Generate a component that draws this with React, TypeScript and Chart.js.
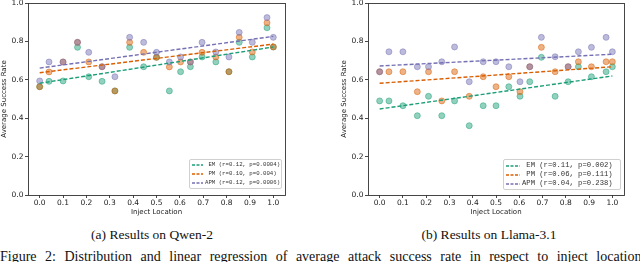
import React, { useEffect, useRef } from "react";
import { Chart, registerables } from "chart.js";

Chart.register(...registerables);

// ---------- data ----------
const LOCATIONS = [0, 0.04, 0.1, 0.162, 0.21, 0.267, 0.322, 0.385, 0.445, 0.5, 0.555, 0.603, 0.645, 0.695, 0.754, 0.81, 0.854, 0.91, 0.973, 1.0];

const QWEN_EM = [0.564, 0.592, 0.594, 0.769, 0.616, 0.592, 0.542, 0.769, 0.668, 0.717, 0.542, 0.642, 0.668, 0.719, 0.693, 0.642, 0.795, 0.719, 0.871, 0.771];
const QWEN_PM = [0.564, 0.641, 0.693, 0.795, 0.693, 0.668, 0.542, 0.795, 0.743, 0.717, 0.667, 0.693, 0.693, 0.743, 0.719, 0.642, 0.821, 0.745, 0.897, 0.771];
const QWEN_APM = [0.594, 0.693, 0.693, 0.795, 0.743, 0.668, 0.616, 0.821, 0.795, 0.743, 0.693, 0.719, 0.693, 0.795, 0.745, 0.719, 0.847, 0.795, 0.924, 0.821];
const QWEN_EM_FIT = [0.582, 0.771];
const QWEN_PM_FIT = [0.637, 0.786];
const QWEN_APM_FIT = [0.661, 0.826];
const QWEN_LEGEND = [" EM (r=0.12, p=0.0004)", " PM (r=0.10, p=0.004)", "APM (r=0.12, p=0.0006)"];

const LLAMA_EM = [0.49, 0.49, 0.465, 0.413, 0.514, 0.413, 0.49, 0.361, 0.465, 0.465, 0.564, 0.514, 0.59, 0.717, 0.514, 0.59, 0.668, 0.616, 0.642, 0.668];
const LLAMA_PM = [0.642, 0.642, 0.642, 0.538, 0.642, 0.49, 0.642, 0.514, 0.616, 0.564, 0.616, 0.538, 0.668, 0.769, 0.642, 0.668, 0.694, 0.668, 0.694, 0.694];
const LLAMA_APM = [0.642, 0.746, 0.746, 0.668, 0.668, 0.694, 0.771, 0.59, 0.694, 0.694, 0.668, 0.59, 0.668, 0.821, 0.72, 0.668, 0.746, 0.769, 0.821, 0.746];
const LLAMA_EM_FIT = [0.448, 0.62];
const LLAMA_PM_FIT = [0.582, 0.668];
const LLAMA_APM_FIT = [0.672, 0.733];
const LLAMA_LEGEND = [" EM (r=0.11, p=0.002)", " PM (r=0.06, p=0.111)", "APM (r=0.04, p=0.238)"];

const FIT_X = [0, 1];
const X_TICKS = [0, 0.1, 0.2, 0.3, 0.4, 0.5, 0.6, 0.7, 0.8, 0.9, 1.0];
const Y_TICKS = [0, 0.2, 0.4, 0.6, 0.8, 1.0];
const X_TITLE = "Inject Location";
const Y_TITLE = "Average Success Rate";
const CAPTION_A = "(a) Results on Qwen-2";
const CAPTION_B = "(b) Results on Llama-3.1";
const FIGURE_CAPTION = "Figure 2: Distribution and linear regression of average attack success rate in respect to inject locations";

// ---------- style ----------
const LINE_COLORS = ["#1b9e77", "#d95f02", "#7570b3"];
const POINT_COLORS = ["rgba(27,158,119,0.48)", "rgba(217,95,2,0.48)", "rgba(117,112,179,0.48)"];
const TEXT_COLOR = "#222";
const AXIS_FONT = { family: "'DejaVu Sans'", size: 7.5 };
const TITLE_FONT = { family: "'DejaVu Sans'", size: 7 };

const framePlugin = {
  id: "frame",
  afterDatasetsDraw(chart: any) {
    const { ctx, chartArea } = chart;
    ctx.save();
    ctx.strokeStyle = "#333";
    ctx.lineWidth = 0.9;
    const l = Math.round(chartArea.left) + 0.5;
    const t = Math.round(chartArea.top) + 0.5;
    const r = Math.round(chartArea.right) + 0.5;
    const b = Math.round(chartArea.bottom) + 0.5;
    ctx.strokeRect(l, t, r - l, b - t);
    ctx.restore();
  },
};

type PanelProps = {
  left: number;
  width: number;
  padRight: number;
  series: number[][];
  fits: number[][];
};

function Panel({ left, width, padRight, series, fits }: PanelProps) {
  const ref = useRef<HTMLCanvasElement>(null);
  useEffect(() => {
    if (!ref.current) return;
    const scatterSets = series.map((vals, i) => ({
      type: "scatter" as const,
      data: LOCATIONS.map((x, j) => ({ x, y: vals[j] })),
      backgroundColor: POINT_COLORS[i],
      borderColor: POINT_COLORS[i],
      borderWidth: 1,
      pointRadius: 3,
      order: 10 - i,
    }));
    const lineSets = fits.map((vals, i) => ({
      type: "line" as const,
      data: FIT_X.map((x, j) => ({ x, y: vals[j] })),
      borderColor: LINE_COLORS[i],
      borderWidth: 1.4,
      borderDash: [4, 2],
      pointRadius: 0,
      fill: false,
      order: 3 - i,
    }));
    const grid = {
      display: true,
      drawOnChartArea: false,
      drawTicks: true,
      tickLength: 3,
      tickColor: "#333",
      tickWidth: 0.9,
    };
    const chart = new Chart(ref.current, {
      type: "scatter",
      data: { datasets: [...scatterSets, ...lineSets] as any },
      plugins: [framePlugin],
      options: {
        animation: false,
        responsive: false,
        maintainAspectRatio: false,
        layout: { padding: { top: 13, right: padRight, bottom: 0, left: 0 } },
        plugins: { legend: { display: false }, tooltip: { enabled: false } },
        scales: {
          x: {
            type: "linear",
            min: -0.05,
            max: 1.05,
            afterBuildTicks: (s: any) => {
              s.ticks = X_TICKS.map((v) => ({ value: v }));
            },
            afterFit: (s: any) => {
              s.height = 25;
            },
            ticks: {
              font: AXIS_FONT,
              color: TEXT_COLOR,
              padding: 1,
              maxRotation: 0,
              autoSkip: false,
              callback: (v: any) => Number(v).toFixed(1),
            },
            grid,
            border: { display: false },
            title: {
              display: true,
              text: X_TITLE,
              font: TITLE_FONT,
              color: TEXT_COLOR,
              padding: { top: 0, bottom: 3.5 },
            },
          },
          y: {
            type: "linear",
            min: 0,
            max: 1,
            afterBuildTicks: (s: any) => {
              s.ticks = Y_TICKS.map((v) => ({ value: v }));
            },
            afterFit: (s: any) => {
              s.width = 28;
            },
            ticks: {
              font: AXIS_FONT,
              color: TEXT_COLOR,
              padding: 1.5,
              autoSkip: false,
              callback: (v: any) => Number(v).toFixed(1),
            },
            grid,
            border: { display: false },
            title: {
              display: true,
              text: Y_TITLE,
              font: TITLE_FONT,
              color: TEXT_COLOR,
              padding: { top: 0, bottom: 0 },
            },
          },
        },
      } as any,
    });
    return () => chart.destroy();
  }, []);
  return (
    <canvas
      ref={ref}
      width={width}
      height={230}
      style={{ position: "absolute", left, top: -10, width, height: 230 }}
    />
  );
}

type LegendProps = {
  x: number;
  y: number;
  w: number;
  h: number;
  fontSize: number;
  handle: number;
  labels: string[];
};

function Legend({ x, y, w, h, fontSize, handle, labels }: LegendProps) {
  return (
    <div
      style={{
        position: "absolute",
        left: x,
        top: y,
        width: w,
        height: h,
        boxSizing: "border-box",
        border: "1px solid #d0d0d0",
        borderRadius: 2,
        background: "rgba(255,255,255,0.85)",
        display: "flex",
        flexDirection: "column",
        justifyContent: "space-around",
        padding: "1px 0 1px 2px",
      }}
    >
      {labels.map((lab, i) => (
        <div key={i} style={{ display: "flex", alignItems: "center", height: 9 }}>
          <svg width={handle} height={4} style={{ flex: "none" }}>
            <line x1={0} y1={2} x2={handle} y2={2} stroke={LINE_COLORS[i]} strokeWidth={1.3} strokeDasharray="3 1.5" />
          </svg>
          <span
            style={{
              marginLeft: 2,
              fontFamily: "'Liberation Mono', monospace",
              fontSize,
              whiteSpace: "pre",
              color: "#333",
              lineHeight: 1,
            }}
          >
            {lab}
          </span>
        </div>
      ))}
    </div>
  );
}

const captionStyle: React.CSSProperties = {
  position: "absolute",
  top: 228,
  fontFamily: "'Liberation Serif', serif",
  fontSize: 13.5,
  lineHeight: "13.5px",
  color: "#111",
  whiteSpace: "nowrap",
  transform: "translateX(-50%)",
};

export default function App() {
  return (
    <div
      style={{
        position: "fixed",
        left: 0,
        top: 0,
        width: 640,
        height: 262,
        overflow: "hidden",
        background: "#fff",
      }}
    >
      <Panel left={0} width={320} padRight={35} series={[QWEN_EM, QWEN_PM, QWEN_APM]} fits={[QWEN_EM_FIT, QWEN_PM_FIT, QWEN_APM_FIT]} />
      <Panel left={340} width={300} padRight={16} series={[LLAMA_EM, LLAMA_PM, LLAMA_APM]} fits={[LLAMA_EM_FIT, LLAMA_PM_FIT, LLAMA_APM_FIT]} />
      <Legend x={189} y={159} w={93} h={30} fontSize={5.7} handle={11} labels={QWEN_LEGEND} />
      <Legend x={503} y={159} w={118} h={31} fontSize={7.2} handle={14} labels={LLAMA_LEGEND} />
      <div style={{ ...captionStyle, left: 152 }}>{CAPTION_A}</div>
      <div style={{ ...captionStyle, left: 489 }}>{CAPTION_B}</div>
      <div
        style={{
          position: "absolute",
          left: 0,
          top: 250,
          fontFamily: "'Liberation Serif', serif",
          fontSize: 14,
          lineHeight: "14px",
          wordSpacing: 5,
          color: "#111",
          whiteSpace: "nowrap",
        }}
      >
        {FIGURE_CAPTION}
      </div>
    </div>
  );
}
